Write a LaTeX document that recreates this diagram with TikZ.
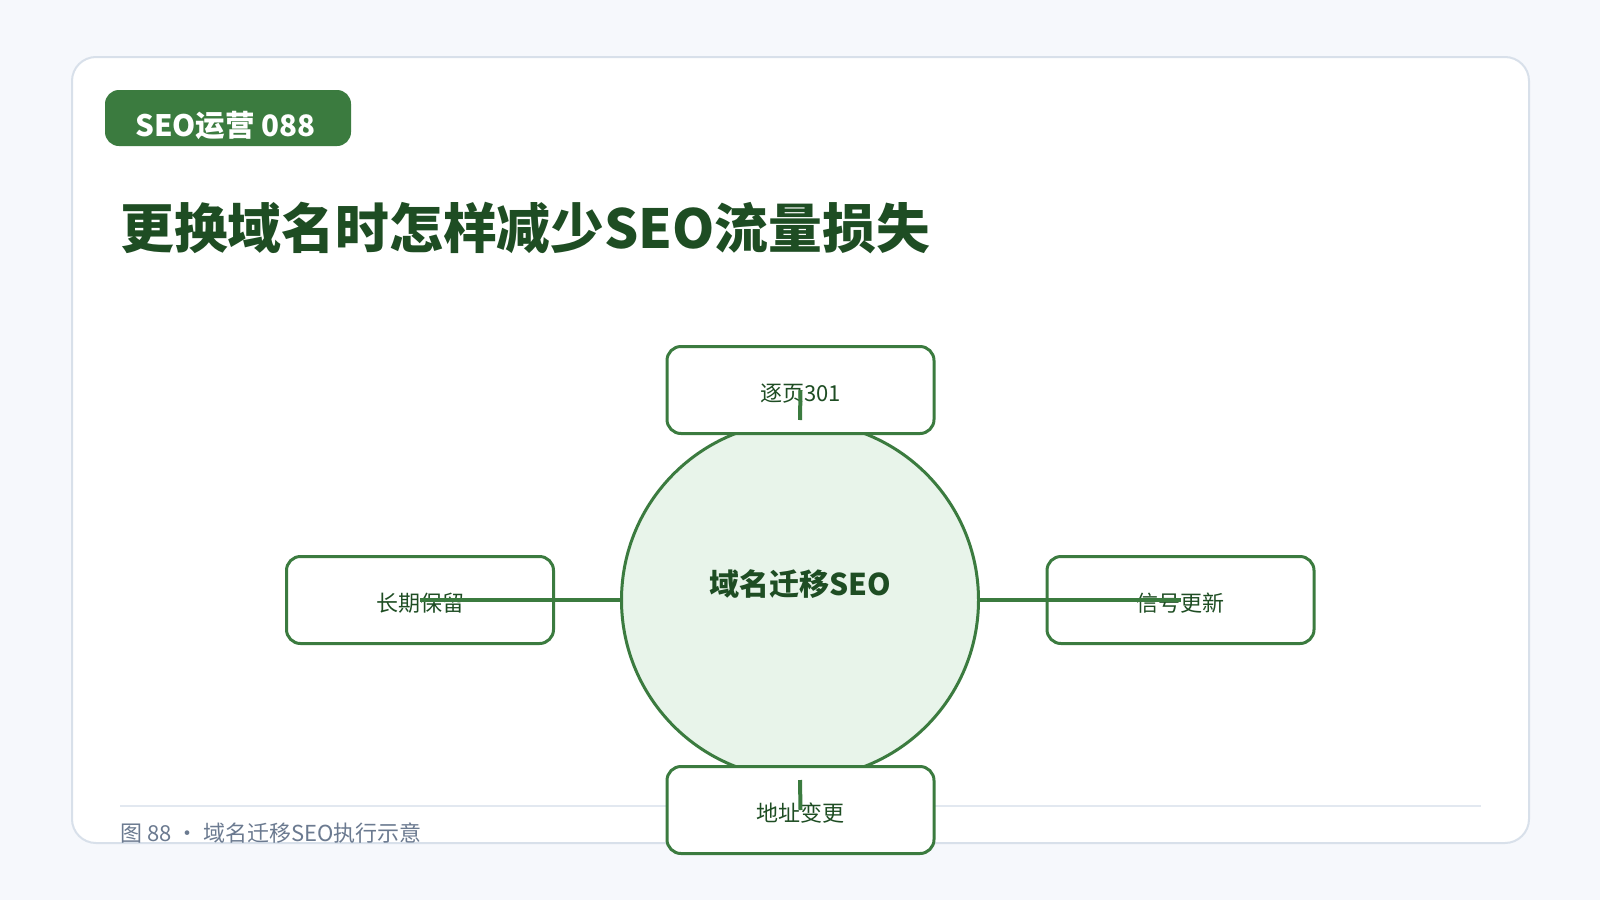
\documentclass[tikz,border=0pt]{standalone}
\usepackage{fontspec}
\setmainfont{Noto Sans CJK SC}
\definecolor{pagebg}{HTML}{F6F8FC}
\definecolor{cardline}{HTML}{D8E0EA}
\definecolor{gfill}{HTML}{3B7B3F}
\definecolor{gdark}{HTML}{1E4D23}
\definecolor{ctrfill}{HTML}{E8F4EA}
\definecolor{footline}{HTML}{E2E8F0}
\definecolor{foottext}{HTML}{6B7A90}
\tikzset{
  leaf/.style={draw=gfill, line width=3pt, fill=white, rounded corners=14pt,
    minimum width=267pt, minimum height=87pt, inner sep=0pt, text=gdark,
    text height=23pt, text depth=0.5pt,
    font=\fontsize{22}{26}\selectfont},
  hub/.style={circle, draw=gfill, line width=3pt, fill=ctrfill, minimum size=357pt,
    inner sep=0pt},
  link/.style={draw=gfill, line width=4pt},
}
\begin{document}
\begin{tikzpicture}[x=1pt,y=-1pt]
\useasboundingbox (0,0) rectangle (1600,900);
\fill[pagebg] (0,0) rectangle (1600,900);
% card
\draw[cardline, line width=2pt, fill=white, rounded corners=24pt] (72,57) rectangle (1529,843);
% badge
\fill[gfill, rounded corners=14pt] (105,90) rectangle (351,146);
\node[anchor=west, inner sep=0pt, text=white, font=\fontsize{29.5}{34}\selectfont\bfseries] (badge) at (135,125.5) {SEO运营 088};
% title
\node[anchor=west, inner sep=0pt, text=gdark, font=\fontsize{53.8}{64}\selectfont\bfseries] (title) at (120,228) {更换域名时怎样减少SEO流量损失};
% footer
\draw[footline, line width=2pt] (120,806) -- (1481,806);
\node[anchor=west, inner sep=0pt, text=foottext, font=\fontsize{22}{26}\selectfont] (foot) at (120,833) {图 88 · 域名迁移SEO执行示意};
% hub
\node[hub] (c) at (800,600) {};
\node[text=gdark, inner sep=0pt, font=\fontsize{30}{36}\selectfont\bfseries] (ct) at (800,584) {域名迁移SEO};
% leaves
\node[leaf] (t) at (800.5,390) {逐页301};
\node[leaf] (r) at (1180.5,600) {信号更新};
\node[leaf] (b) at (800.5,810) {地址变更};
\node[leaf] (l) at (420,600) {长期保留};
% connectors
\draw[link] (c.north) -- (t.center);
\draw[link] (c.east) -- (r.center);
\draw[link] (c.south) -- (b.center);
\draw[link] (c.west) -- (l.center);
\end{tikzpicture}
\end{document}
